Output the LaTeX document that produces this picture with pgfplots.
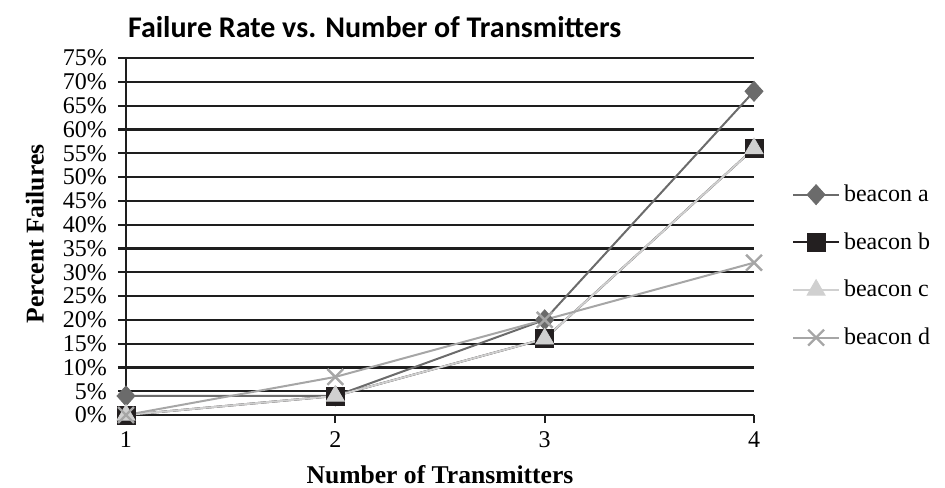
\documentclass[border=0pt]{standalone}
\usepackage{pgfplots}
\pgfplotsset{compat=1.18}
\usepackage{fontspec}
\setmainfont{Liberation Serif}
\newfontfamily\titlefont{Carlito}
\definecolor{ca}{HTML}{6B6B6B}
\definecolor{cb}{HTML}{231F20}
\definecolor{cc}{HTML}{D0D0D0}
\definecolor{cd}{HTML}{A6A6A6}
\definecolor{gridc}{HTML}{1E1E1E}
\begin{document}
\begin{tikzpicture}
\useasboundingbox (0,0) rectangle (472.5pt,243.5pt);
\begin{axis}[
  at={(63pt,36pt)}, anchor=south west,
  scale only axis, width=314pt, height=178.5pt,
  xmin=1, xmax=4, ymin=0, ymax=75,
  axis lines=left, axis line style={-, line width=1.1pt, color=gridc},
  xtick={1,2,3,4}, xticklabels={1,2,3,4},
  ytick={0,5,...,75},
  yticklabels={0\%,5\%,10\%,15\%,20\%,25\%,30\%,35\%,40\%,45\%,50\%,55\%,60\%,65\%,70\%,75\%},
  tick align=outside, major tick length=4pt,
  tick style={line width=1.1pt, color=gridc},
  ymajorgrids, grid style={line width=1.1pt, color=gridc},
  tick label style={font=\fontsize{12}{12}\selectfont},
  yticklabel style={xshift=-2pt},
  xticklabel style={yshift=-1pt},
  clip=false,
  title={\titlefont\bfseries\fontsize{15}{15}\selectfont Failure Rate vs. Number of Transmitters},
  title style={at={(rel axis cs:0.396,1.052)}, anchor=center},
  xlabel={\bfseries\fontsize{12.8}{12.8}\selectfont Number of Transmitters},
  xlabel style={at={(rel axis cs:0.5,-0.168)}, anchor=center},
  ylabel={\bfseries\fontsize{12.8}{12.8}\selectfont Percent Failures},
  ylabel style={at={(rel axis cs:-0.145,0.507)}, anchor=center, rotate=0},
  legend style={at={(rel axis cs:1.06,0.417)}, anchor=west, draw=none, fill=none,
    font=\fontsize{12}{12}\selectfont, row sep=10pt, inner sep=0pt,
    legend cell align=left},
  legend image code/.code={
    \draw[mark repeat=2,mark phase=2] plot coordinates {(0pt,0pt) (11.5pt,0pt) (23pt,0pt)};},
  every axis plot/.append style={line width=1pt},
]
\addplot[color=ca, mark=diamond*, mark size=5pt, mark options={fill=ca, draw=ca, xscale=1.2, line width=0.4pt}]
  coordinates {(1,4) (2,4) (3,20) (4,68)};
\addlegendentry{beacon a}
\addplot[color=cb, mark=square*, mark size=4.5pt, mark options={fill=cb, draw=cb, line width=0.4pt}]
  coordinates {(1,0) (2,4) (3,16) (4,56)};
\addlegendentry{beacon b}
\addplot[color=cc, mark=triangle*, mark size=5.2pt, mark options={fill=cc, draw=cc, line width=0.4pt}]
  coordinates {(1,0) (2,4) (3,16) (4,56)};
\addlegendentry{beacon c}
\addplot[color=cd, mark=x, mark size=5.6pt, mark options={draw=cd, line width=1.2pt}]
  coordinates {(1,0) (2,8) (3,20) (4,32)};
\addlegendentry{beacon d}
\end{axis}
\end{tikzpicture}
\end{document}
